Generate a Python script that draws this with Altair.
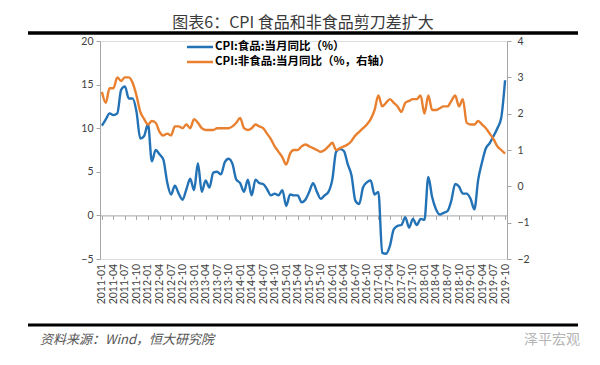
import altair as alt
import pandas as pd

# ---------------- data ----------------
months = [f"{y}-{m:02d}" for y in range(2011, 2020) for m in range(1, 13)][:106]
tick_months = [m for m in months if m[5:] in ("01", "04", "07", "10")]

food_yoy = [
    10.3, 11.0, 11.7, 11.5, 11.7, 14.4, 14.8, 13.4, 13.4, 11.9, 8.8, 9.1,
    10.5, 6.2, 7.5, 7.0, 6.4, 3.8, 2.4, 3.4, 2.5, 1.8, 3.0, 4.2,
    2.9, 6.0, 2.7, 4.0, 3.2, 4.9, 5.0, 4.7, 6.1, 6.5, 5.9, 4.1,
    3.7, 2.7, 4.1, 2.3, 4.1, 3.7, 3.6, 3.0, 2.3, 2.5, 2.3, 2.9,
    1.1, 2.4, 2.3, 2.3, 1.5, 1.8, 2.7, 3.7, 2.7, 1.9, 2.3, 2.7,
    4.1, 7.3, 7.6, 7.4, 5.9, 4.6, 1.7, 1.3, 3.2, 3.8, 4.0, 2.4,
    2.7, -4.3, -4.4, -3.5, -1.6, -1.2, -1.1, -0.2, -1.4, -0.4, -1.1, -0.4,
    -0.5, 4.4, 2.1, 0.7, 0.1, 0.3, 0.5, 1.7, 3.6, 3.3, 2.5, 2.5,
    1.9, 0.7, 4.1, 6.1, 7.7, 8.3, 9.1, 10.0, 11.2, 15.5,
]

nonfood_yoy = [
    2.6, 2.3, 2.7, 2.7, 3.0, 2.9, 3.0, 3.0, 2.85, 2.5, 2.05, 1.85,
    1.7, 1.8, 1.75, 1.5, 1.4, 1.45, 1.4, 1.65, 1.65, 1.6, 1.7, 1.6,
    1.85, 1.75, 1.6, 1.55, 1.55, 1.55, 1.6, 1.6, 1.6, 1.6, 1.65, 1.75,
    1.88, 1.6, 1.55, 1.6, 1.7, 1.65, 1.6, 1.45, 1.3, 1.1, 0.95, 0.8,
    0.6, 0.9, 1.0, 1.0, 1.1, 1.15, 1.1, 1.05, 1.0, 0.95, 1.0, 1.1,
    1.2, 1.0, 1.05, 1.1, 1.15, 1.25, 1.4, 1.5, 1.6, 1.7, 1.85, 2.1,
    2.5, 2.2, 2.3, 2.4, 2.3, 2.2, 2.05, 2.3, 2.35, 2.4, 2.4, 2.5,
    2.0, 2.5, 2.1, 2.1, 2.15, 2.2, 2.2, 2.35, 2.5, 2.2, 2.4, 1.75,
    1.7, 1.7, 1.8, 1.7, 1.6, 1.45, 1.3, 1.1, 1.0, 0.9,
]

series_names = ["CPI:食品:当月同比（%）", "CPI:非食品:当月同比（%，右轴）"]
left_ticks = [-5, 0, 5, 10, 15, 20]
right_ticks = [-2, -1, 0, 1, 2, 3, 4]
title_text = "图表6：CPI 食品和非食品剪刀差扩大"
source_text = "资料来源：Wind，恒大研究院"
mark_text = "泽平宏观"

# ---------------- style ----------------
W, H = 407, 218
BLUE, ORANGE = "#2372B6", "#E8802F"
GREY = "#a6a6a6"
LABEL_FONT = "Lato"
CJK = "Noto Sans CJK SC"

df_food = pd.DataFrame({"month": months, "value": food_yoy, "series": series_names[0]})
df_non = pd.DataFrame({"month": months, "value": nonfood_yoy, "series": series_names[1]})

xscale = alt.Scale(type="point", domain=months, padding=0.5)

x_axis = alt.Axis(
    values=tick_months, labelAngle=-90, offset=-(H * 5 / 25), tickSize=4,
    labelPadding=44, domainColor=GREY, tickColor=GREY, labelFont=LABEL_FONT,
    labelFontSize=10.5, labelColor="#404040", title=None, grid=False,
)

food_line = alt.Chart(df_food).mark_line(strokeWidth=2.4, interpolate="monotone", color=BLUE).encode(
    x=alt.X("month:O", scale=xscale, axis=x_axis, sort=months),
    y=alt.Y("value:Q", scale=alt.Scale(domain=[-5, 20], nice=False, zero=False),
            axis=alt.Axis(values=left_ticks, orient="left", title=None, grid=False,
                          domainColor=GREY, tickColor=GREY, tickSize=4,
                          labelFont=LABEL_FONT, labelFontSize=10.5, labelColor="#404040",
                          labelPadding=3)),
)

non_line = alt.Chart(df_non).mark_line(strokeWidth=2.4, interpolate="monotone", color=ORANGE).encode(
    x=alt.X("month:O", scale=xscale, axis=x_axis, sort=months),
    y=alt.Y("value:Q", scale=alt.Scale(domain=[-2, 4], nice=False, zero=False),
            axis=alt.Axis(values=right_ticks, orient="right", title=None, grid=False,
                          domainColor=GREY, tickColor=GREY, tickSize=4,
                          labelFont=LABEL_FONT, labelFontSize=10.5, labelColor="#404040",
                          labelPadding=6)),
)

lines = alt.layer(food_line, non_line).resolve_scale(y="independent")

one = pd.DataFrame({"t": [0]})

# legend (two rows: line swatch + bold label)
legend_layers = []
for i, (name, col) in enumerate(zip(series_names, [BLUE, ORANGE])):
    ypos = 6 + 15 * i
    legend_layers.append(
        alt.Chart(one).mark_rule(color=col, strokeWidth=2.5).encode(
            x=alt.value(87), x2=alt.value(113), y=alt.value(ypos)))
    legend_layers.append(
        alt.Chart(pd.DataFrame({"text": [name]})).mark_text(
            font=CJK, fontSize=11.5, fontWeight="bold", color="#000000",
            align="left", baseline="middle").encode(
            x=alt.value(115), y=alt.value(ypos), text="text:N"))

top_rule = alt.Chart(one).mark_rule(color="#000000", strokeWidth=3.5).encode(
    x=alt.value(-72), x2=alt.value(478), y=alt.value(-8))
bottom_rule = alt.Chart(one).mark_rule(color="#000000", strokeWidth=3).encode(
    x=alt.value(-72), x2=alt.value(478), y=alt.value(284))

title_mark = alt.Chart(pd.DataFrame({"text": [title_text]})).mark_text(
    font=CJK, fontSize=16, color="#3a3a3a", align="center", baseline="middle"
).encode(x=alt.value(203), y=alt.value(-18), text="text:N")

source_mark = alt.Chart(pd.DataFrame({"text": [source_text]})).mark_text(
    font=CJK, fontSize=13, fontStyle="italic", color="#555555", align="left", baseline="middle"
).encode(x=alt.value(-60), y=alt.value(299), text="text:N")

wm_mark = alt.Chart(pd.DataFrame({"text": [mark_text]})).mark_text(
    font=CJK, fontSize=14, color="#b5b5b5", align="right", baseline="middle"
).encode(x=alt.value(480), y=alt.value(299), text="text:N")

chart = alt.layer(lines, *legend_layers, top_rule, bottom_rule, title_mark, source_mark, wm_mark).properties(
    width=W, height=H,
    autosize=alt.AutoSizeParams(type="none"),
    padding={"left": 92, "top": 33, "right": 85, "bottom": 95},
).configure_view(stroke=None).configure(background="#ffffff")

chart.save("out.html", embed_options={"renderer": "svg", "actions": False})
